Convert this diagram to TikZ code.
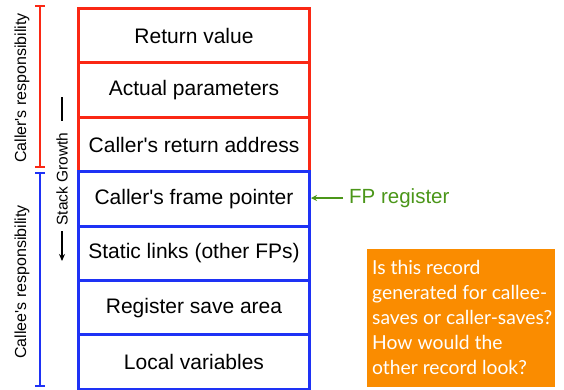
\documentclass[tikz,border=0pt]{standalone}
\usepackage{fontspec}
\setmainfont{Liberation Sans}[Ligatures=TeXOff]
\newfontfamily\notefont{Lato}
\usetikzlibrary{arrows.meta}
\definecolor{rred}{RGB}{250,40,20}
\definecolor{rblue}{RGB}{30,50,245}
\definecolor{rgreen}{RGB}{75,150,25}
\definecolor{rorange}{RGB}{250,140,0}
\begin{document}
\begin{tikzpicture}[x=1pt,y=-1pt,
  cell/.style={draw, line width=3pt, minimum width=231pt, minimum height=54.4pt,
     anchor=north west, inner sep=0pt, font=\fontsize{21}{23}\selectfont},
  redcell/.style={cell, draw=rred},
  bluecell/.style={cell, draw=rblue},
  side/.style={rotate=90, font=\fontsize{16}{18}\selectfont},
  beam/.style={line width=2pt}
]
\useasboundingbox (0,0) rectangle (564,389);
% red rows
\node[redcell] (r1) at (77,7) {Return value};
\node[redcell] (r2) at (77,61.4) {Actual parameters};
\node[redcell] (r3) at (77,115.8) {Caller's return address};
% blue rows
\node[bluecell] (b1) at (77,170.2) {Caller's frame pointer};
\node[bluecell] (b2) at (77,224.6) {Static links (other FPs)};
\node[bluecell] (b3) at (77,279) {Register save area};
\node[bluecell] (b4) at (77,333.4) {Local variables};
% brackets
\coordinate (rt) at (40,6);
\coordinate (rb) at (40,167);
\coordinate (bt) at (40,173);
\coordinate (bb) at (40,386);
\draw[beam, rred] (rt) -- (rb);
\draw[beam, rred] ([xshift=-5pt]rt) -- ([xshift=5pt]rt);
\draw[beam, rred] ([xshift=-5pt]rb) -- ([xshift=5pt]rb);
\draw[beam, rblue] (bt) -- (bb);
\draw[beam, rblue] ([xshift=-5pt]bt) -- ([xshift=5pt]bt);
\draw[beam, rblue] ([xshift=-5pt]bb) -- ([xshift=5pt]bb);
\node[side] (callerlab) at (22,88) {Caller's responsibility};
\node[side] (calleelab) at (22,282) {Callee's responsibility};
% stack growth
\node[side, font=\fontsize{15.5}{18}\selectfont] (sg) at (62,179) {Stack Growth};
\coordinate (sgt1) at (62,97);
\coordinate (sgt2) at (62,121);
\coordinate (sga1) at (62,231);
\coordinate (sga2) at (62,261);
\draw[line width=1.8pt] (sgt1) -- (sgt2);
\draw[line width=1.8pt, -{Stealth[length=7pt,width=6pt]}] (sga1) -- (sga2);
% FP register
\node[anchor=west, text=rgreen, font=\fontsize{20.5}{22}\selectfont, inner sep=0pt] (fp) at (349,198) {FP register};
\coordinate (fpa) at (343,198);
\coordinate (fpb) at (311,198);
\draw[rgreen, line width=2pt, -{Stealth[length=6pt,width=6pt]}] (fpa) -- (fpb);
% note
\node[fill=rorange, anchor=north west, minimum width=188pt, minimum height=138pt, inner sep=0pt] (note) at (367,249) {};
\node[anchor=north west, text=white, align=left, inner sep=0pt,
   font=\notefont\fontsize{19.3}{25}\selectfont] (notetext) at (372,260)
   {Is this record\\generated for callee-\\saves or caller-saves?\\How would the\\other record look?};
\end{tikzpicture}
\end{document}
